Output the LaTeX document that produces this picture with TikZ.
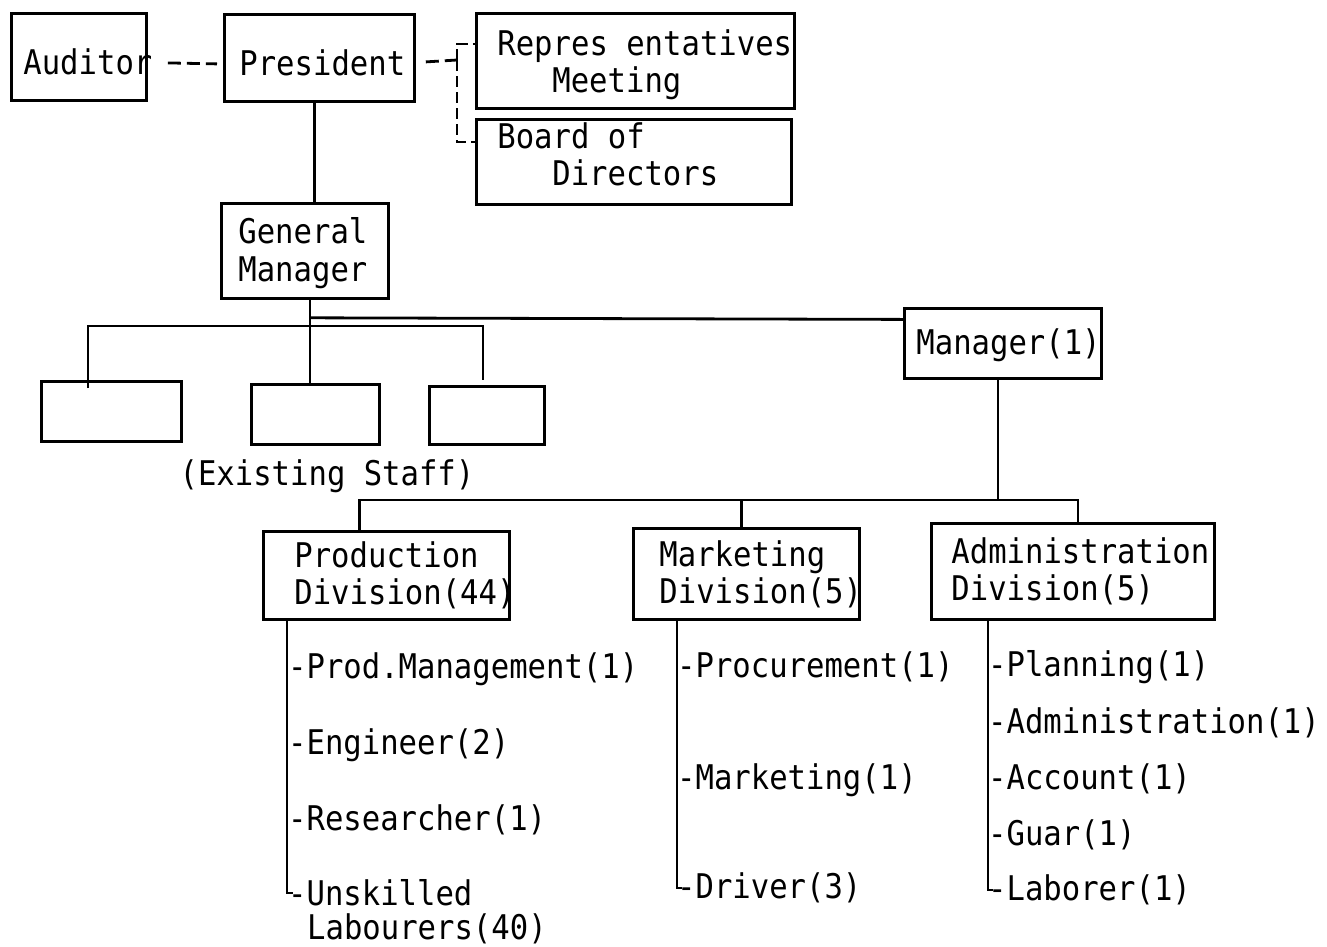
\documentclass[tikz,border=0pt]{standalone}
\usepackage{fontspec}
\setmainfont{DejaVu Sans Mono}[FakeStretch=0.9]
% one full character cell, used for the spaces inside labels
\newcommand\cell{\hspace*{18.4pt}}
\newcommand\nudge[2]{\raisebox{#1}[\height][\depth]{#2}}
\begin{document}
\begin{tikzpicture}[x=1pt,y=-1pt,
  every node/.style={font=\fontsize{34}{37}\selectfont},
  box/.style={draw, line width=2.8pt, anchor=north west, align=left, inner ysep=0pt},
  blank/.style={draw, line width=2.8pt, anchor=north west, inner sep=0pt},
  item/.style={anchor=west, inner sep=0pt},
  link/.style={line width=2.8pt},
  dashlink/.style={line width=2.8pt, dash pattern=on 13pt off 6pt}]
\useasboundingbox (0,0) rectangle (1327,946);

% top level
\node[box, text width=111pt, inner xsep=12pt, minimum height=87pt] (aud) at (10,12) {\nudge{-5pt}{Auditor}};
\node[box, text width=160pt, inner xsep=15pt, minimum height=87pt] (pres) at (223,13) {\nudge{-5pt}{President}};
\node[box, text width=276pt, inner xsep=21pt, minimum height=95pt] (reps) at (475,12)
  {\nudge{-4pt}{Repres\cell entatives}\\\nudge{-4pt}{\hspace*{55pt}Meeting}};
\node[box, text width=273pt, inner xsep=21pt, minimum height=85pt] (board) at (475,118)
  {\nudge{8pt}{Board\cell of}\\\nudge{8pt}{\hspace*{55pt}Directors}};
\node[box, text width=133pt, inner xsep=17pt, minimum height=95pt] (gm) at (220,202)
  {\nudge{-2pt}{General}\\\nudge{-3pt}{Manager}};
\node[box, text width=173pt, inner xsep=12pt, minimum height=70pt] (mgr) at (903,307) {\nudge{-2pt}{Manager(1)}};

% existing staff
\node[blank, minimum width=140pt, minimum height=60pt] (s1) at (40,380) {};
\node[blank, minimum width=128pt, minimum height=60pt] (s2) at (250,383) {};
\node[blank, minimum width=115pt, minimum height=58pt] (s3) at (428,385) {};
\node (staff) at (327,476) {(Existing\cell Staff)};

% divisions
\node[box, text width=184pt, inner xsep=31pt, minimum height=88pt] (prod) at (262,530) {Production\\\mbox{Division(44)}};
\node[box, text width=174pt, inner xsep=26pt, minimum height=91pt] (mkt) at (632,527) {Marketing\\\mbox{Division(5)}};
\node[box, text width=243pt, inner xsep=20pt, minimum height=96pt] (adm) at (930,522) {\mbox{Administration}\\Division(5)};

% production staff
\node[item] (pm) at (288,669) {-Prod.Management(1)};
\node[item] (eng) at (288,745) {-Engineer(2)};
\node[item] (res) at (288,820) {-Researcher(1)};
\node[item] (unsk) at (288,893) {-Unskilled};
\node[item] (lbr) at (307,929) {Labourers(40)};

% marketing staff
\node[item] (proc) at (677,667) {-Procurement(1)};
\node[item] (mk) at (677,780) {-Marketing(1)};
\node[item] (drv) at (677,888) {-Driver(3)};

% administration staff
\node[item] (plan) at (988,667) {-Planning(1)};
\node[item] (admin) at (988,723) {-Administration(1)};
\node[item] (acc) at (988,779) {-Account(1)};
\node[item] (guar) at (988,835) {-Guar(1)};
\node[item] (lab) at (988,890) {-Laborer(1)};

% dashed advisory links
\coordinate (jn) at (457,60);
\draw[dashlink] ([xshift=20pt,yshift=-6pt]aud.east) -- ([xshift=-6pt,yshift=-6pt]pres.west);
\draw[dashlink] ([xshift=10pt,yshift=-4pt]pres.east) -- (jn);
\draw[dashlink, dash pattern=on 11pt off 5pt] (jn) |- ([yshift=17pt]reps.west);
\draw[dashlink, dash pattern=on 11pt off 5pt] (jn) |- ([yshift=20pt]board.west);

% line of command
\draw[link] ([xshift=-5pt]pres.south) -- ([xshift=-5pt]pres.south |- gm.north);
\draw[link] ([xshift=5pt]gm.south) -- ([xshift=5pt]gm.south |- s2.north);
\draw[link] ([xshift=5pt,yshift=-18pt]gm.south) -- ([yshift=24pt]mgr.west);
\coordinate (sbus) at (308,326);
\draw[link] ([xshift=48pt,yshift=-8pt]s1.north west) |- (sbus) -| ([xshift=55pt,yshift=5pt]s3.north west);

\coordinate (dbus) at (998,500);
\draw[link] (mgr.south -| dbus) -- (dbus);
\draw[link] ([xshift=-27pt]prod.north) |- (dbus) -| ([xshift=5pt]adm.north);
\draw[link] ([xshift=-5pt]mkt.north) -- ([xshift=-5pt]mkt.north |- dbus);

% division stems
\draw[link] ([xshift=25pt]prod.south west) |- ([xshift=5pt]unsk.west);
\draw[link] ([xshift=45pt]mkt.south west) |- ([xshift=5pt]drv.west);
\draw[link] ([xshift=58pt]adm.south west) |- ([xshift=5pt]lab.west);
\end{tikzpicture}
\end{document}
